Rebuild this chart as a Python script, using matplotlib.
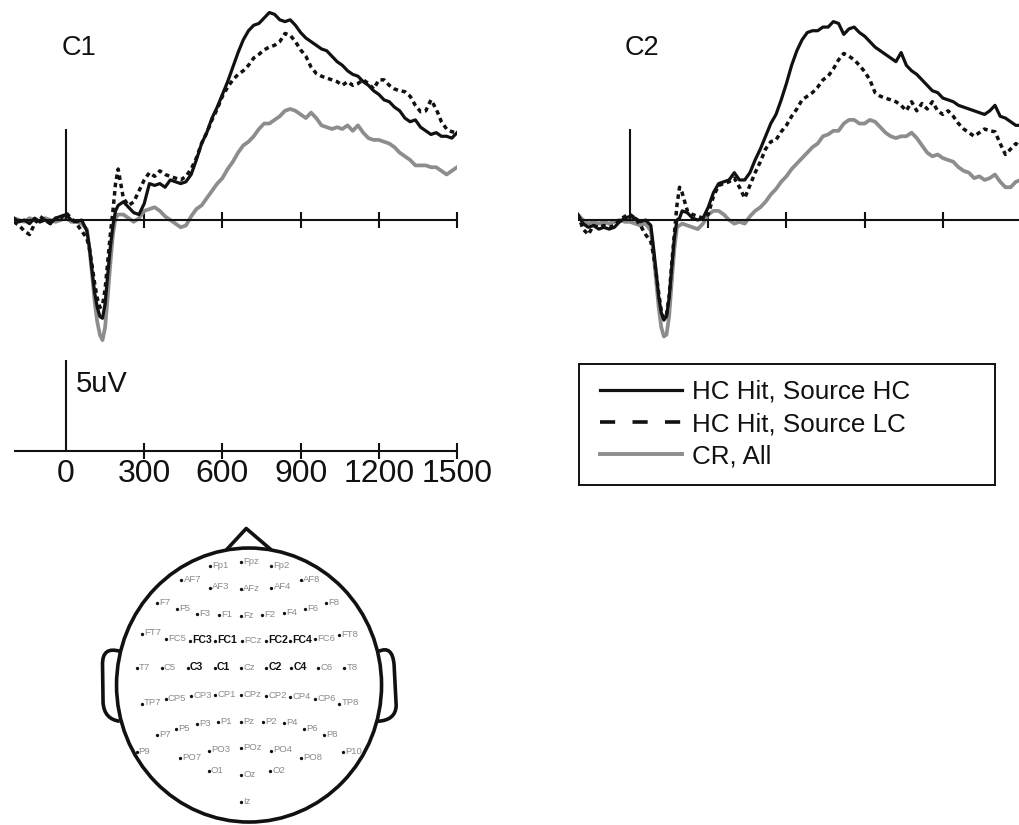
import numpy as np
import matplotlib
matplotlib.use("Agg")
import matplotlib.pyplot as plt
from matplotlib.lines import Line2D
from matplotlib.patches import Ellipse, PathPatch
from matplotlib.path import Path

plt.rcParams["font.family"] = ["Liberation Sans", "DejaVu Sans"]

# ---------------------------------------------------------------- data
# sample times (ms): denser around the early negative deflection
times = np.concatenate([
    [-200, -180, -160, -140, -120, -100, -80, -60, -40, -20, 0, 20, 40, 60,
     80, 90, 100, 110, 120, 130, 140, 150, 160, 170, 180, 190, 200],
    np.arange(220, 1501, 20),
])

# electrode C1 (uV)
c1_hc_hc = [0.1, -0.1, 0.0, -0.2, 0.1, -0.1, 0.0, -0.2, 0.1, 0.2, 0.3, 0.0, -0.1, 0.0,
            -0.6, -1.5, -2.8, -4.0, -4.8, -5.3, -5.4, -4.6, -3.0, -1.5, -0.3, 0.5, 0.8,
            1.0, 0.7, 0.4, 0.3, 0.9, 2.0, 1.9, 2.0, 1.8, 2.2, 2.1, 2.0, 2.1, 2.5, 3.3,
            4.2, 4.8, 5.6, 6.2, 6.9, 7.6, 8.4, 9.2, 9.9, 10.4, 10.7, 10.8, 11.1, 11.4,
            11.3, 11.0, 10.9, 11.0, 10.7, 10.3, 10.0, 9.8, 9.6, 9.4, 9.3, 9.0, 8.7, 8.5,
            8.2, 8.0, 7.9, 7.6, 7.4, 7.1, 6.9, 6.6, 6.5, 6.2, 6.0, 5.6, 5.4, 5.5, 5.1,
            4.9, 4.7, 4.8, 4.6, 4.6, 4.5, 4.8]
c1_hc_lc = [-0.1, -0.3, -0.6, -0.8, -0.2, 0.2, 0.0, -0.2, 0.1, 0.1, 0.4, 0.1, -0.2, -0.6,
            -1.0, -1.6, -2.5, -3.5, -4.3, -4.8, -4.7, -3.8, -2.3, -0.8, 0.5, 2.0, 2.8,
            1.2, 0.8, 1.0, 1.6, 2.2, 2.6, 2.4, 2.7, 2.5, 2.4, 2.3, 2.2, 2.4, 2.8, 3.4,
            4.2, 4.8, 5.5, 6.1, 6.8, 7.3, 7.7, 8.0, 8.2, 8.5, 8.9, 9.1, 9.35, 9.5,
            9.6, 9.8, 10.25, 10.15, 9.8, 9.35, 9.0, 8.4, 8.05, 7.9, 7.8, 7.7, 7.6, 7.4,
            7.6, 7.4, 7.5, 7.7, 7.5, 7.2, 7.7, 7.7, 7.4, 7.2, 7.1, 7.05, 6.8, 6.3, 5.95,
            6.0, 6.6, 6.1, 5.4, 5.0, 4.85, 4.8]
c1_cr = [0.1, 0.0, -0.1, 0.1, 0.0, -0.1, 0.1, 0.0, -0.1, 0.0, 0.1, -0.1, -0.1, -0.2,
         -0.5, -1.6, -3.0, -4.5, -5.6, -6.3, -6.6, -5.9, -4.2, -2.4, -0.8, 0.1, 0.3,
         0.3, 0.1, -0.1, 0.1, 0.5, 0.6, 0.7, 0.5, 0.2, 0.0, -0.2, -0.4, -0.3, 0.2, 0.6,
         0.8, 1.2, 1.6, 2.0, 2.3, 2.8, 3.2, 3.7, 4.1, 4.3, 4.6, 5.0, 5.3, 5.3,
         5.5, 5.7, 6.0, 6.1, 6.0, 5.8, 5.6, 5.9, 5.6, 5.2, 5.1, 5.0, 5.1, 5.0,
         5.2, 4.9, 5.2, 4.8, 4.5, 4.4, 4.4, 4.3, 4.2, 4.0, 3.7, 3.5, 3.3, 3.0, 3.0,
         3.0, 2.9, 2.9, 2.7, 2.5, 2.7, 2.9]

# electrode C2 (uV)
c2_hc_hc = [0.3, -0.2, -0.4, -0.3, -0.5, -0.4, -0.5, -0.4, -0.1, 0.1, 0.2, 0.1, -0.1, 0.0,
            -0.3, -1.5, -2.8, -4.2, -5.1, -5.5, -5.3, -4.3, -2.6, -1.0, 0.0, 0.1, 0.5,
            0.4, 0.1, 0.0, 0.1, 0.7, 1.5, 2.0, 2.1, 2.2, 2.6, 2.2, 2.2, 2.6, 3.3, 3.9,
            4.6, 5.3, 5.8, 6.6, 7.5, 8.5, 9.3, 9.9, 10.3, 10.4, 10.4, 10.6, 10.6, 10.9,
            10.8, 10.2, 10.5, 10.6, 10.3, 10.1, 9.8, 9.5, 9.3, 9.1, 8.9, 8.7, 9.2, 8.5,
            8.2, 8.0, 7.7, 7.4, 7.1, 7.0, 6.7, 6.6, 6.5, 6.3, 6.2, 6.1, 6.0, 5.9, 5.8,
            6.0, 6.3, 5.7, 5.6, 5.4, 5.2, 5.2]
c2_hc_lc = [0.3, -0.5, -0.8, -0.3, -0.4, -0.3, -0.4, -0.3, 0.0, 0.2, 0.3, 0.1, -0.3, -0.8,
            -1.2, -1.9, -2.9, -4.0, -5.0, -5.4, -5.2, -4.2, -2.4, -0.8, 0.8, 1.8, 1.5,
            0.5, 0.3, 0.2, 0.1, 0.3, 1.3, 1.9, 2.0, 2.1, 2.3, 1.8, 1.2, 1.9, 2.6, 3.2,
            3.9, 4.3, 4.4, 4.85, 5.2, 5.7, 6.1, 6.6, 6.8, 7.0, 7.3, 7.7, 7.9, 8.3,
            8.8, 9.15, 9.0, 8.8, 8.5, 8.15, 7.7, 7.0, 6.8, 6.7, 6.6, 6.5, 6.3, 6.0,
            6.5, 6.0, 6.4, 6.1, 6.5, 6.0, 5.8, 6.0, 5.7, 5.3, 5.0, 4.8, 4.6, 4.8, 5.0,
            4.9, 4.85, 4.2, 3.6, 3.9, 4.2, 4.0]
c2_cr = [0.3, 0.0, -0.2, -0.1, -0.2, -0.1, -0.2, -0.1, 0.0, -0.1, -0.1, -0.2, -0.3, -0.2,
         -0.6, -1.8, -3.3, -4.8, -5.9, -6.4, -6.3, -5.3, -3.4, -1.6, -0.4, -0.3, -0.2,
         -0.3, -0.4, -0.5, -0.2, 0.3, 0.5, 0.5, 0.3, 0.0, -0.2, -0.1, -0.2, 0.2, 0.5, 0.7,
         1.0, 1.4, 1.7, 2.1, 2.4, 2.8, 3.1, 3.4, 3.7, 4.0, 4.2, 4.6, 4.7, 4.9,
         4.9, 5.3, 5.5, 5.5, 5.3, 5.3, 5.5, 5.4, 5.1, 4.8, 4.6, 4.5, 4.6, 4.6,
         4.8, 4.5, 4.1, 3.7, 3.5, 3.6, 3.4, 3.3, 3.2, 2.9, 2.7, 2.6, 2.3, 2.4, 2.2,
         2.3, 2.5, 2.1, 1.8, 1.8, 2.1, 2.2]

condition_labels = ["HC Hit, Source HC", "HC Hit, Source LC", "CR, All"]
tick_ms = [0, 300, 600, 900, 1200, 1500]
tick_labels = ["0", "300", "600", "900", "1200", "1500"]
scale_uv = 5
scale_label = "5uV"
panel_names = ["C1", "C2"]

# 10-10 montage positions (units of the Cz-T7 distance)
electrodes = ["Fp1", "Fpz", "Fp2",
              "AF7", "AF3", "AFz", "AF4", "AF8",
              "F7", "F5", "F3", "F1", "Fz", "F2", "F4", "F6", "F8",
              "FT7", "FC5", "FC3", "FC1", "FCz", "FC2", "FC4", "FC6", "FT8",
              "T7", "C5", "C3", "C1", "Cz", "C2", "C4", "C6", "T8",
              "TP7", "CP5", "CP3", "CP1", "CPz", "CP2", "CP4", "CP6", "TP8",
              "P7", "P5", "P3", "P1", "Pz", "P2", "P4", "P6", "P8",
              "P9", "PO7", "PO3", "POz", "PO4", "PO8", "P10",
              "O1", "Oz", "O2", "Iz"]
elec_x = [-0.30, 0.00, 0.29,
          -0.57, -0.30, 0.00, 0.29, 0.57,
          -0.80, -0.61, -0.42, -0.21, 0.00, 0.20, 0.41, 0.61, 0.81,
          -0.95, -0.72, -0.49, -0.25, 0.01, 0.24, 0.47, 0.71, 0.94,
          -1.00, -0.76, -0.51, -0.25, 0.00, 0.24, 0.48, 0.74, 0.99,
          -0.95, -0.72, -0.48, -0.25, 0.00, 0.24, 0.47, 0.71, 0.94,
          -0.80, -0.62, -0.42, -0.22, 0.00, 0.21, 0.41, 0.60, 0.79,
          -1.00, -0.58, -0.31, 0.00, 0.29, 0.57, 0.98,
          -0.31, 0.00, 0.28, 0.00]
elec_y = [0.98, 1.01, 0.98,
          0.84, 0.77, 0.76, 0.77, 0.84,
          0.62, 0.56, 0.52, 0.51, 0.50, 0.51, 0.53, 0.56, 0.62,
          0.33, 0.28, 0.26, 0.26, 0.26, 0.26, 0.26, 0.28, 0.32,
          0.00, 0.00, 0.00, 0.00, 0.00, 0.00, 0.00, 0.00, 0.00,
          -0.34, -0.30, -0.27, -0.26, -0.26, -0.27, -0.28, -0.30, -0.34,
          -0.64, -0.58, -0.54, -0.52, -0.52, -0.52, -0.53, -0.58, -0.64,
          -0.80, -0.86, -0.79, -0.77, -0.79, -0.86, -0.80,
          -0.99, -1.02, -0.99, -1.28]
highlighted = ["FC3", "FC1", "FC2", "FC4", "C3", "C1", "C2", "C4"]

# ---------------------------------------------------------------- layout
W, H = 1020, 825
INK = "#111111"
GREY = "#8d8d8d"
LABEL_GREY = "#8a8a8a"

fig = plt.figure(figsize=(W / 100, H / 100), dpi=100)


def px_rect(x0, y0, x1, y1):
    return [x0 / W, 1 - y1 / H, (x1 - x0) / W, (y1 - y0) / H]


MS_PX = 0.2607   # pixels per ms
UV_PX = 18.2     # pixels per uV
T0, T1 = tick_ms[0] - 200, tick_ms[-1]


def erp_axes(origin_x, origin_y, uv_top, uv_bottom, first_tick):
    x0 = origin_x + T0 * MS_PX
    x1 = origin_x + T1 * MS_PX
    ax = fig.add_axes(px_rect(x0, origin_y - uv_top * UV_PX,
                              x1, origin_y - uv_bottom * UV_PX))
    ax.set_xlim(T0, T1)
    ax.set_ylim(uv_bottom, uv_top)
    ax.patch.set_visible(False)
    ax.spines["top"].set_visible(False)
    ax.spines["right"].set_visible(False)
    ax.spines["bottom"].set_position(("data", 0))
    ax.spines["left"].set_position(("data", 0))
    ax.spines["left"].set_bounds(0, scale_uv)
    for s in ("bottom", "left"):
        ax.spines[s].set_linewidth(1.5)
        ax.spines[s].set_color(INK)
        ax.spines[s].set_capstyle("butt")
    ax.set_yticks([])
    ax.set_xticks(tick_ms[first_tick:])
    ax.tick_params(axis="x", direction="inout", length=12, width=1.5,
                   color=INK, labelbottom=False)
    return ax


def draw_waveforms(ax, hc_hc, hc_lc, cr):
    ax.plot(times, hc_hc, color=INK, lw=2.3, solid_joinstyle="round",
            zorder=3)
    ax.plot(times, cr, color=GREY, lw=2.7, solid_joinstyle="round", zorder=2)
    ax.plot(times, hc_lc, color=INK, lw=2.5, linestyle=(0, (1.3, 1.1)),
            zorder=4)


ax1 = erp_axes(66, 220, 12.1, -7.0, 1)
draw_waveforms(ax1, c1_hc_hc, c1_hc_lc, c1_cr)
ax2 = erp_axes(630, 220, 12.1, -7.0, 1)
draw_waveforms(ax2, c2_hc_hc, c2_hc_lc, c2_cr)

fig.text(62 / W, 1 - 55 / H, panel_names[0], fontsize=19.5, color=INK,
         ha="left", va="baseline")
fig.text(625 / W, 1 - 55 / H, panel_names[1], fontsize=19.5, color=INK,
         ha="left", va="baseline")

# calibration axes: time ticks and amplitude bar
axs = erp_axes(66, 451, 5.55, -0.5, 0)
axs.tick_params(axis="x", labelbottom=True, pad=0.0, labelsize=23,
                labelcolor=INK)
axs.set_xticklabels(tick_labels)
axs.xaxis.get_major_ticks()[0].tick1line.set_visible(False)
fig.text(76 / W, 1 - 392 / H, scale_label, fontsize=21, color=INK,
         ha="left", va="baseline")

# legend box
lax = fig.add_axes(px_rect(579, 364, 995, 485))
lax.set_xticks([])
lax.set_yticks([])
for s in lax.spines.values():
    s.set_linewidth(1.4)
    s.set_color(INK)
handles = [Line2D([], [], color=INK, lw=2.3),
           Line2D([], [], color=INK, lw=2.6, linestyle=(0, (4.2, 4.8))),
           Line2D([], [], color=GREY, lw=2.8)]
lax.legend(handles, condition_labels, loc="upper left",
           bbox_to_anchor=(21 / 416, 1 - 16 / 121), frameon=False,
           fontsize=18.7, handlelength=3.15, handletextpad=0.38,
           labelspacing=0.31, borderpad=0, borderaxespad=0,
           labelcolor=INK)

# scalp montage
HEAD_PX = 104.5
HX, HY = 241, 668
hax = fig.add_axes(px_rect(90, 515, 410, 825))
hax.set_xlim((90 - HX) / HEAD_PX, (410 - HX) / HEAD_PX)
hax.set_ylim((HY - 825) / HEAD_PX, (HY - 515) / HEAD_PX)
hax.axis("off")

hax.add_patch(Ellipse((0.077, -0.163), 2.536, 2.622, fill=False,
                      lw=2.6, ec=INK, zorder=2))
hax.plot([-0.14, 0.05, 0.29], [1.13, 1.335, 1.13], color=INK, lw=2.6,
         solid_joinstyle="round", solid_capstyle="butt", zorder=2)

ear_codes = [Path.MOVETO, Path.CURVE3, Path.CURVE3, Path.LINETO,
             Path.CURVE3, Path.CURVE3]
left_ear = Path([(-1.16, 0.16), (-1.33, 0.21), (-1.325, 0.03),
                 (-1.32, -0.33), (-1.31, -0.49), (-1.16, -0.51)], ear_codes)
right_ear = Path([(1.32, 0.16), (1.45, 0.22), (1.465, 0.03),
                  (1.485, -0.36), (1.48, -0.50), (1.31, -0.51)], ear_codes)
for ear in (left_ear, right_ear):
    hax.add_patch(PathPatch(ear, fill=False, lw=2.6, ec=INK,
                            capstyle="butt", zorder=2))

hax.plot(elec_x, elec_y, "o", ms=2.4, color=INK, mec="none", zorder=3)
for name, ex, ey in zip(electrodes, elec_x, elec_y):
    bold = name in highlighted
    hax.annotate(name, (ex, ey), xytext=(1.6, 0.4),
                 textcoords="offset points", ha="left", va="center",
                 fontsize=7.6 if bold else 6.8,
                 fontweight="bold" if bold else "normal",
                 color=INK if bold else LABEL_GREY, zorder=4)

fig.savefig("out.png", dpi=100, facecolor="white")
